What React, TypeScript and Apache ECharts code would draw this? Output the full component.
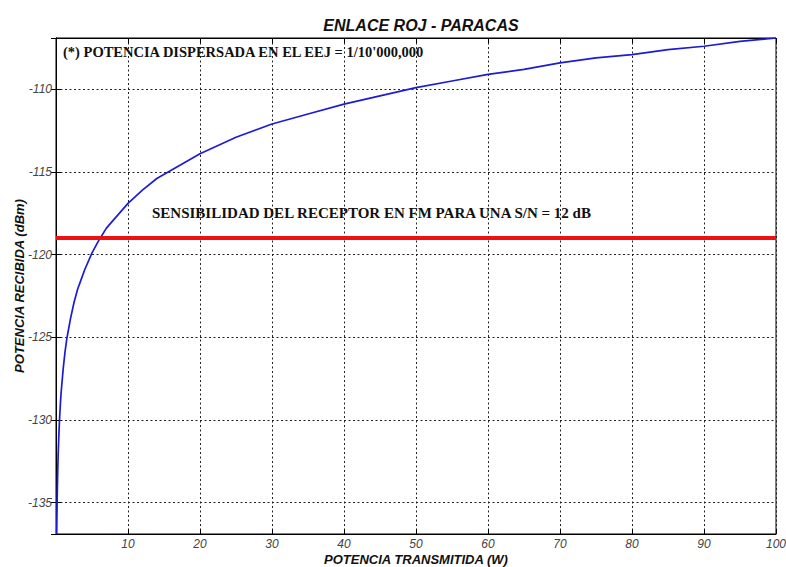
import React, { useEffect, useRef } from "react";
import * as echarts from "echarts";

const title = "ENLACE ROJ - PARACAS";
const xName = "POTENCIA TRANSMITIDA (W)";
const yName = "POTENCIA RECIBIDA (dBm)";
const noteText = "(*) POTENCIA DISPERSADA EN EL EEJ = 1/10'000,000";
const sensText = "SENSIBILIDAD DEL RECEPTOR EN FM PARA UNA S/N = 12 dB";

// Transmitted power (W) and received power (dBm)
const powerW = [0.1, 0.15, 0.2, 0.25, 0.3, 0.4, 0.5, 0.6, 0.7, 0.8, 1, 1.25, 1.5, 1.75, 2, 2.5, 3, 3.5, 4, 5, 6, 7, 8, 9, 10, 12, 14, 16, 18, 20, 25, 30, 35, 40, 45, 50, 55, 60, 65, 70, 75, 80, 85, 90, 95, 100];
const receivedDbm = [-136.9, -135.1, -133.9, -132.9, -132.1, -130.9, -129.9, -129.1, -128.4, -127.9, -126.9, -125.9, -125.1, -124.5, -123.9, -122.9, -122.1, -121.5, -120.9, -119.9, -119.1, -118.4, -117.9, -117.4, -116.9, -116.1, -115.4, -114.9, -114.4, -113.9, -112.9, -112.1, -111.5, -110.9, -110.4, -109.9, -109.5, -109.1, -108.8, -108.4, -108.1, -107.9, -107.6, -107.4, -107.1, -106.9];
const sensitivityDbm = -119;

const xMin = 0;
const xMax = 100;
const yMin = -136.9;
const yMax = -106.9;

export default function App() {
  const ref = useRef<HTMLDivElement>(null);
  useEffect(() => {
    if (!ref.current) return;
    const chart = echarts.init(ref.current, null, { renderer: "svg" });
    const labelFont = { fontFamily: "Liberation Sans, Arial, sans-serif", fontStyle: "italic" as const, fontSize: 12, color: "#444" };
    const gridLine = { show: true, lineStyle: { color: "#222", type: [2, 2.5] as any, width: 1 } };
    const axisLine = { show: true, lineStyle: { color: "#000", width: 1 } };
    const tick = { show: true, inside: true, length: 5, lineStyle: { color: "#000" } };
    const nameStyle = { fontFamily: "Liberation Sans, Arial, sans-serif", fontStyle: "italic", fontWeight: "bold", fontSize: 13, fill: "#111" };
    chart.setOption({
      animation: false,
      backgroundColor: "#fff",
      title: {
        text: title,
        left: 416,
        textAlign: "center",
        top: 12,
        textStyle: { fontFamily: "Liberation Sans, Arial, sans-serif", fontStyle: "italic", fontWeight: "bold", fontSize: 16, color: "#111" },
      },
      grid: { left: 56, right: 10, top: 38, bottom: 33, show: true, borderColor: "#000", borderWidth: 1, backgroundColor: "#fff", outerBoundsMode: "none", containLabel: false },
      xAxis: [
        {
          type: "value",
          min: xMin,
          max: xMax,
          interval: 10,
          axisLine,
          axisTick: tick,
          splitLine: gridLine,
          axisLabel: { ...labelFont, margin: 4, showMinLabel: false },
        },
        {
          type: "value",
          position: "top",
          min: xMin,
          max: xMax,
          interval: 10,
          axisLine,
          axisTick: tick,
          splitLine: { show: false },
          axisLabel: { show: false },
        },
      ],
      yAxis: [
        {
          type: "value",
          min: yMin,
          max: yMax,
          splitNumber: 6,
          axisLine,
          axisTick: tick,
          splitLine: gridLine,
          axisLabel: { ...labelFont, margin: 4, showMinLabel: false, showMaxLabel: false },
        },
        {
          type: "value",
          position: "right",
          min: yMin,
          max: yMax,
          splitNumber: 6,
          axisLine,
          axisTick: tick,
          splitLine: { show: false },
          axisLabel: { show: false },
        },
      ],
      series: [
        {
          type: "line",
          data: powerW.map((p, i) => [p, receivedDbm[i]]),
          smooth: false,
          showSymbol: false,
          lineStyle: { color: "#1c1cd8", width: 1.7 },
          clip: true,
          markLine: {
            silent: true,
            symbol: "none",
            label: { show: false },
            lineStyle: { color: "#ee1111", width: 4, type: "solid" },
            data: [{ yAxis: sensitivityDbm }],
          },
        },
      ],
      graphic: [
        {
          type: "text",
          x: 416,
          y: 559,
          style: { ...nameStyle, text: xName, textAlign: "center", textVerticalAlign: "middle" },
        },
        {
          type: "text",
          x: 19,
          y: 286,
          rotation: Math.PI / 2,
          style: { ...nameStyle, text: yName, textAlign: "center", textVerticalAlign: "middle" },
        },
        {
          type: "text",
          left: 63,
          top: 44,
          style: { text: noteText, fontFamily: "Liberation Serif, Times New Roman, serif", fontWeight: "bold", fontSize: 14.5, fill: "#111" },
        },
        {
          type: "text",
          left: 152,
          top: 205,
          style: { text: sensText, fontFamily: "Liberation Serif, Times New Roman, serif", fontWeight: "bold", fontSize: 15, fill: "#111" },
        },
      ],
    });
    return () => chart.dispose();
  }, []);
  return <div ref={ref} style={{ width: 786, height: 567, position: "absolute", left: 0, top: 0 }} />;
}
